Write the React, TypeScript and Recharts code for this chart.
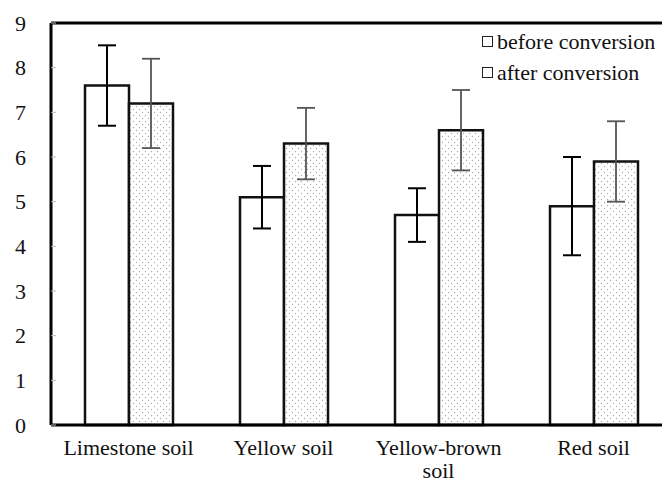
import { BarChart, Bar, XAxis, YAxis, ErrorBar, ReferenceLine, Legend } from "recharts"

const categories = ["Limestone soil", "Yellow soil", "Yellow-brown soil", "Red soil"]
const beforeValues = [7.6, 5.1, 4.7, 4.9]
const beforeErrors = [0.9, 0.7, 0.6, 1.1]
const afterValues = [7.2, 6.3, 6.6, 5.9]
const afterErrors = [1.0, 0.8, 0.9, 0.9]
const yTicks = [0, 1, 2, 3, 4, 5, 6, 7, 8, 9]
const seriesNames = ["before conversion", "after conversion"]

const font = "'Liberation Serif', 'DejaVu Serif', 'Noto Serif', serif"

const chartData = categories.map((name, i) => ({
  name,
  before: beforeValues[i],
  beforeErr: beforeErrors[i],
  after: afterValues[i],
  afterErr: afterErrors[i],
}))

// long labels go on two lines, like the original
const splitLabel = (s: string) => {
  if (s.length <= 14) return [s]
  const i = s.lastIndexOf(" ")
  return [s.slice(0, i), s.slice(i + 1)]
}

const CategoryTick = ({ x, y, payload }: any) => (
  <text x={x} y={y + 30} textAnchor="middle" fill="#111" fontSize={22} style={{ fontFamily: font }}>
    {splitLabel(payload.value).map((line, i) => (
      <tspan key={i} x={x} dy={i === 0 ? 0 : 23}>
        {line}
      </tspan>
    ))}
  </text>
)

const LegendBox = () => (
  <div style={{ fontFamily: font, fontSize: 22, lineHeight: "31px", color: "#111" }}>
    {seriesNames.map((n) => (
      <div key={n} style={{ display: "flex", alignItems: "center", whiteSpace: "nowrap" }}>
        <span
          style={{
            display: "inline-block",
            width: 9,
            height: 9,
            border: "1.5px solid #222",
            background: "#fff",
            marginRight: 4,
          }}
        />
        {n}
      </div>
    ))}
  </div>
)

export default function App() {
  return (
    <div style={{ position: "absolute", left: 0, top: 0, width: 662, height: 485, overflow: "hidden", background: "#fff" }}>
      <BarChart
        width={700}
        height={485}
        data={chartData}
        margin={{ top: 23, right: 29, bottom: 0, left: 0 }}
        barGap={0}
        barSize={44}
      >
        <defs>
          <pattern id="dots" patternUnits="userSpaceOnUse" width={6} height={6}>
            <rect width={6} height={6} fill="#fff" />
            <circle cx={1.5} cy={1.5} r={0.7} fill="#aaa" />
            <circle cx={4.5} cy={4.5} r={0.7} fill="#aaa" />
          </pattern>
        </defs>
        <XAxis
          dataKey="name"
          height={60}
          tickLine={false}
          tickSize={0}
          tickMargin={0}
          axisLine={{ stroke: "#000", strokeWidth: 3 }}
          tick={<CategoryTick />}
          interval={0}
        />
        <YAxis
          width={51}
          domain={[0, 9]}
          ticks={yTicks}
          interval={0}
          tickSize={-5}
          tickMargin={30}
          tickLine={{ stroke: "#bbb" }}
          axisLine={{ stroke: "#000", strokeWidth: 3 }}
          tick={{ fill: "#111", fontSize: 22, style: { fontFamily: font } }}
        />
        <ReferenceLine y={9} stroke="#000" strokeWidth={3} />
        <Legend
          layout="vertical"
          align="center"
          verticalAlign="middle"
          content={<LegendBox />}
          wrapperStyle={{ left: 482, top: 26, width: "auto" }}
        />
        <Bar dataKey="before" name={seriesNames[0]} fill="#fff" stroke="#111" strokeWidth={2.5} isAnimationActive={false}>
          <ErrorBar dataKey="beforeErr" width={9} stroke="#000" strokeWidth={2} />
        </Bar>
        <Bar dataKey="after" name={seriesNames[1]} fill="url(#dots)" stroke="#111" strokeWidth={2.5} isAnimationActive={false}>
          <ErrorBar dataKey="afterErr" width={9} stroke="#555" strokeWidth={1.8} />
        </Bar>
      </BarChart>
    </div>
  )
}
